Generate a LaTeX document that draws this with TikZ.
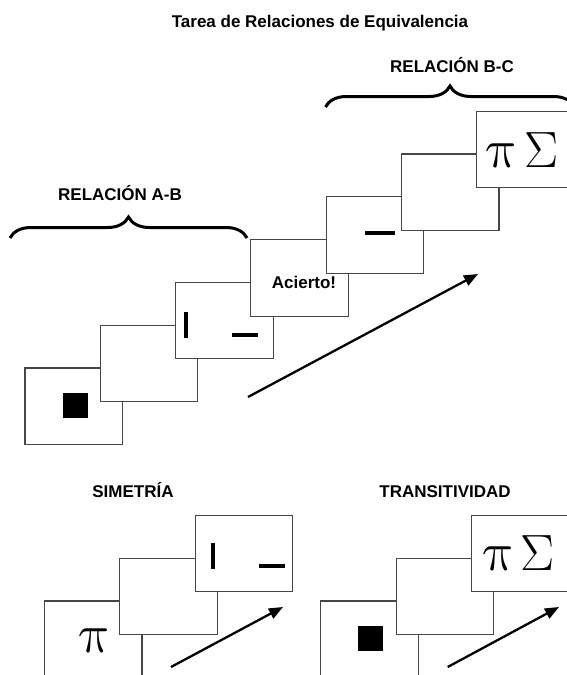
\RequirePackage{fix-cm}
\documentclass[tikz,border=0pt]{standalone}
\usepackage{fontspec}
\setmainfont{Liberation Sans}
\usetikzlibrary{arrows.meta,decorations.pathreplacing}
\begin{document}
\begin{tikzpicture}[x=1pt,y=-1pt,
 scr/.style={draw=black!72,line width=1.1pt,fill=white,minimum width=97.5pt,minimum height=76.5pt,inner sep=0pt,outer sep=0pt,anchor=north west},
 lab/.style={font=\fontsize{17}{17}\selectfont\bfseries,anchor=base,inner sep=0pt},
 blk/.style={fill=black,inner sep=0pt,minimum size=25pt},
 vbar/.style={fill=black,inner sep=0pt,minimum width=4pt,minimum height=26pt},
 hbar/.style={fill=black,inner sep=0pt,minimum width=26pt,minimum height=4pt},
 sym/.style={font=\fontsize{51}{51}\selectfont,anchor=base,inner sep=0pt},
 upsym/.style={anchor=base,inner sep=0pt,font=\fontsize{55}{55}\selectfont,xslant=-0.2,transform shape},
 arr/.style={line width=2.3pt,-{Triangle[length=14pt,width=11pt]}},
 brc/.style={line width=3pt,decorate,decoration={brace,amplitude=21pt}}]
\useasboundingbox[fill=white] (0,0) rectangle (567,675);

% labels
\node[lab] (title) at (320,27) {Tarea de Relaciones de Equivalencia};
\node[lab] (lbc) at (452,72) {RELACIÓN B-C};
\node[lab] (lab) at (120,200) {RELACIÓN A-B};
\node[lab] (lsim) at (133,497) {SIMETRÍA};
\node[lab] (ltra) at (445,497) {TRANSITIVIDAD};

% braces
\coordinate (ab1) at (10,238);
\coordinate (ab2) at (247,238);
\draw[brc] (ab1) -- (ab2);
\coordinate (bc1) at (325.5,107);
\coordinate (bc2) at (574.5,107);
\draw[brc] (bc1) -- (bc2);

% top sequence
\node[scr] (b1) at (25,368) {};
\node[blk] (sq1) at (75.5,405.5) {};
\node[scr] (b2) at (100.3,325.2) {};
\node[scr] (b3) at (175.6,282.4) {};
\node[vbar] (v3) at (186,325) {};
\node[hbar] (h3) at (245,335) {};
\node[scr] (b4) at (250.9,239.6) {};
\node[lab] (ac) at (304,288.5) {Acierto!};
\node[scr] (b5) at (326.2,196.8) {};
\node[hbar,minimum width=30pt] (h5) at (380,233) {};
\node[scr] (b6) at (401.5,154) {};
\node[scr] (b7) at (476.8,111.2) {};
\node[upsym] (p7) at (505,167) {$\pi$};
\node[sym] (s7) at (541.5,167) {$\Sigma$};

\coordinate (a1s) at (248,397);
\coordinate (a1e) at (478,274);
\draw[arr] (a1s) -- (a1e);

% simetria
\node[scr] (l1) at (44.5,601) {};
\node[upsym] (p1) at (97.5,652) {$\pi$};
\node[scr] (l2) at (119.8,558.2) {};
\node[scr] (l3) at (195.1,515.4) {};
\node[vbar] (v9) at (213,556) {};
\node[hbar] (h9) at (272,566) {};
\coordinate (a2s) at (171,667);
\coordinate (a2e) at (283,607);
\draw[arr] (a2s) -- (a2e);

% transitividad
\node[scr] (r1) at (320.8,601) {};
\node[blk] (sq2) at (370.3,638.7) {};
\node[scr] (r2) at (396.1,558.2) {};
\node[scr] (r3) at (471.4,515.4) {};
\node[upsym] (p3) at (501.5,570) {$\pi$};
\node[sym] (s3) at (537.5,570) {$\Sigma$};
\coordinate (a3s) at (447.7,667);
\coordinate (a3e) at (559,607);
\draw[arr] (a3s) -- (a3e);
\end{tikzpicture}
\end{document}
